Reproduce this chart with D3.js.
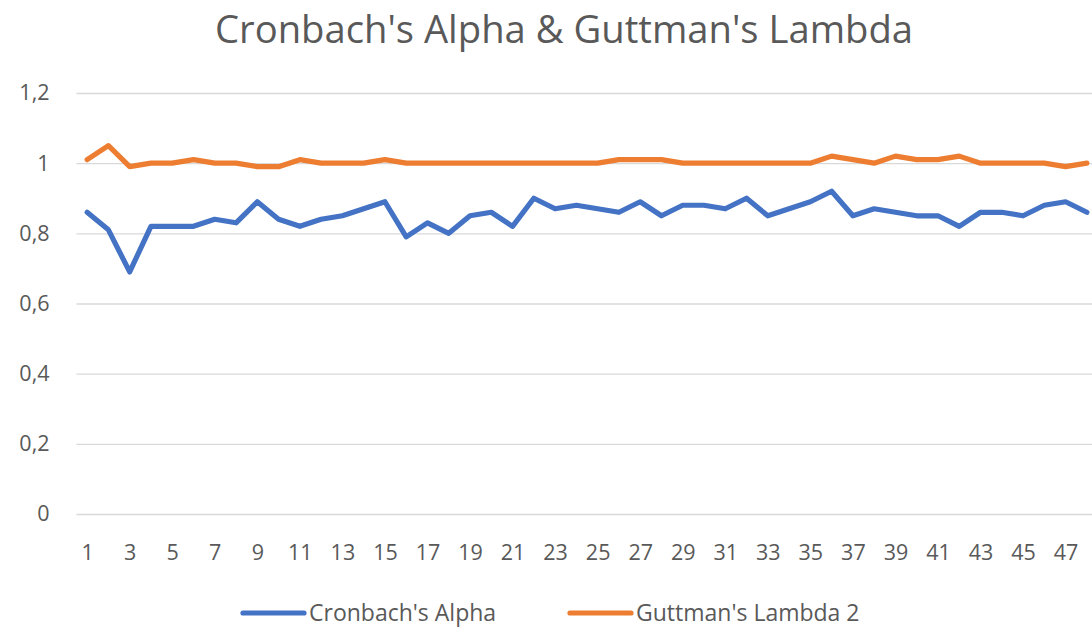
<!DOCTYPE html>
<html>
<head>
<meta charset="utf-8">
<script src="https://cdn.jsdelivr.net/npm/d3@7"></script>
<style>
  body { margin: 0; background: #fff; overflow: hidden; }
  text { font-family: "Open Sans", sans-serif; fill: #595959; }
</style>
</head>
<body>
<div id="myChart"></div>
<script>
var items = [1, 2, 3, 4, 5, 6, 7, 8, 9, 10, 11, 12, 13, 14, 15, 16, 17, 18, 19, 20, 21, 22, 23, 24,
  25, 26, 27, 28, 29, 30, 31, 32, 33, 34, 35, 36, 37, 38, 39, 40, 41, 42, 43, 44, 45, 46, 47, 48];

var alpha = [0.86, 0.81, 0.69, 0.82, 0.82, 0.82, 0.84, 0.83, 0.89, 0.84, 0.82, 0.84,
  0.85, 0.87, 0.89, 0.79, 0.83, 0.80, 0.85, 0.86, 0.82, 0.90, 0.87, 0.88,
  0.87, 0.86, 0.89, 0.85, 0.88, 0.88, 0.87, 0.90, 0.85, 0.87, 0.89, 0.92,
  0.85, 0.87, 0.86, 0.85, 0.85, 0.82, 0.86, 0.86, 0.85, 0.88, 0.89, 0.86];

var lambda2 = [1.01, 1.05, 0.99, 1.00, 1.00, 1.01, 1.00, 1.00, 0.99, 0.99, 1.01, 1.00,
  1.00, 1.00, 1.01, 1.00, 1.00, 1.00, 1.00, 1.00, 1.00, 1.00, 1.00, 1.00,
  1.00, 1.01, 1.01, 1.01, 1.00, 1.00, 1.00, 1.00, 1.00, 1.00, 1.00, 1.02,
  1.01, 1.00, 1.02, 1.01, 1.01, 1.02, 1.00, 1.00, 1.00, 1.00, 0.99, 1.00];

var xTickLabels = [1, 3, 5, 7, 9, 11, 13, 15, 17, 19, 21, 23, 25, 27, 29, 31, 33, 35, 37, 39, 41, 43, 45, 47];
var yTicks = [0, 0.2, 0.4, 0.6, 0.8, 1, 1.2];

var seriesNames = ["Cronbach's Alpha", "Guttman's Lambda 2"];
var seriesColors = ["#4472C4", "#ED7D31"];

const W = 1092, H = 627;
const plot = { left: 76.5, right: 1097.5, top: 93, bottom: 514 };

var svg = d3.select("#myChart")
  .append("svg")
  .attr("width", W)
  .attr("height", H);

// title
svg.append("text")
  .attr("x", 564)
  .attr("y", 43)
  .attr("text-anchor", "middle")
  .attr("font-size", 39)
  .attr("textLength", 698)
  .attr("lengthAdjust", "spacingAndGlyphs")
  .text("Cronbach's Alpha & Guttman's Lambda");

var x = d3.scalePoint().domain(items).range([plot.left, plot.right]).padding(0.5);
var y = d3.scaleLinear().domain([0, 1.2]).range([plot.bottom, plot.top]);

var comma = d3.formatLocale({ decimal: ",", thousands: ".", grouping: [3], currency: ["", ""] }).format(".1~f");

// y axis with gridlines
var yAxis = svg.append("g")
  .attr("transform", "translate(" + plot.left + ",0)")
  .call(d3.axisLeft(y)
    .tickValues(yTicks)
    .tickSize(-(plot.right - plot.left))
    .tickPadding(27)
    .tickFormat(comma));
yAxis.select(".domain").remove();
yAxis.selectAll("line").attr("stroke", "#d9d9d9").attr("stroke-width", 1.3);
yAxis.selectAll("text").attr("font-size", 21.5).attr("font-family", null).style("fill", "#595959");

// x axis labels
var xAxis = svg.append("g")
  .attr("transform", "translate(0," + plot.bottom + ")")
  .call(d3.axisBottom(x).tickValues(xTickLabels).tickSize(0).tickPadding(31));
xAxis.select(".domain").remove();
xAxis.selectAll("text").attr("font-size", 21.5).attr("font-family", null).style("fill", "#595959");

// lines
var line = d3.line()
  .x(function(d, i) { return x(items[i]); })
  .y(function(d) { return y(d); });

[alpha, lambda2].forEach(function(s, k) {
  svg.append("path")
    .datum(s)
    .attr("fill", "none")
    .attr("stroke", seriesColors[k])
    .attr("stroke-width", 5.2)
    .attr("stroke-linejoin", "round")
    .attr("stroke-linecap", "round")
    .attr("d", line);
});

// legend
var legendX = [243, 570];
seriesNames.forEach(function(name, k) {
  var g = svg.append("g").attr("transform", "translate(" + legendX[k] + ",613)");
  g.append("line")
    .attr("x1", 0).attr("x2", 61)
    .attr("stroke", seriesColors[k])
    .attr("stroke-width", 5.2)
    .attr("stroke-linecap", "round");
  g.append("text")
    .attr("x", 66)
    .attr("dy", "0.36em")
    .attr("font-size", 23)
    .text(name);
});
</script>
</body>
</html>
